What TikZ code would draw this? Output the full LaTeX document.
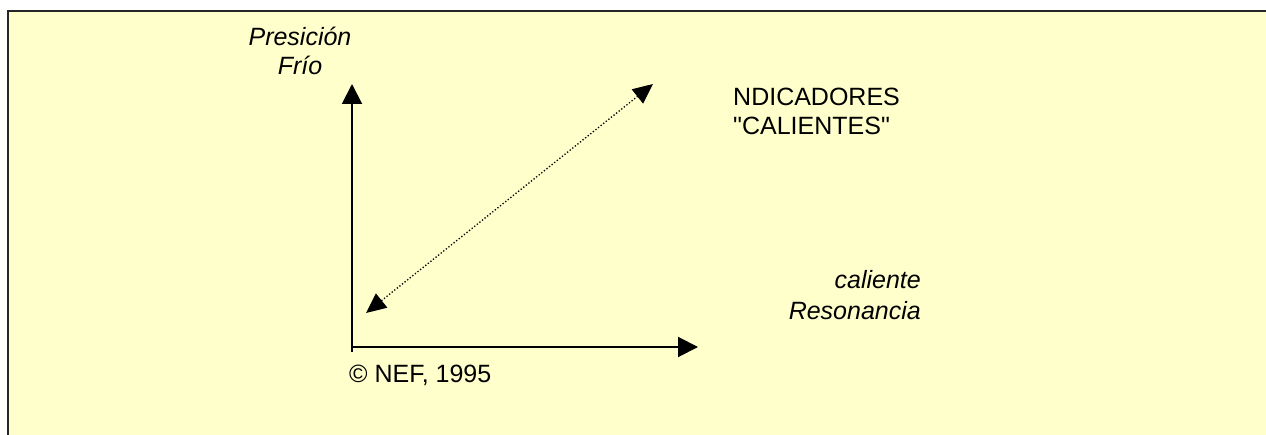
\documentclass[tikz,border=0pt]{standalone}
\usepackage{fontspec}
\setmainfont{Liberation Sans}[Ligatures=TeXOff]
\usetikzlibrary{arrows.meta}
\definecolor{bgyellow}{HTML}{FFFFCC}
\newcommand{\lblfont}{\fontsize{25}{29}\selectfont}
\tikzset{
  lbl/.style={inner sep=0pt, font=\lblfont},
  ilbl/.style={inner sep=0pt, font=\lblfont\itshape},
  axis/.style={line width=2pt, -{Triangle[length=20pt,width=20pt]}},
  diag/.style={line width=1.3pt, dotted, {Triangle[length=20pt,width=18pt]}-{Triangle[length=20pt,width=18pt]}}
}
\begin{document}
\begin{tikzpicture}[x=1pt,y=-1pt]
\useasboundingbox (0,0) rectangle (1266,435);
\fill[white] (0,0) rectangle (1266,435);
\fill[bgyellow] (8,11) rectangle (1270,440);
\draw[line width=1.5pt, black!85] (8,440) -- (8,11) -- (1270,11);
% axes
\coordinate (O) at (352,347);
\coordinate (Obot) at (352,352);
\coordinate (Ytip) at (352,84);
\coordinate (Xtip) at (698,347);
\draw[axis] (Obot) -- (Ytip);
\draw[axis] (O) -- (Xtip);
\coordinate (Dlow) at (366,313);
\coordinate (Dhigh) at (653,84);
\draw[diag] (Dlow) -- (Dhigh);
% labels (anchor = baseline of last line)
\node[ilbl, align=center, anchor=base] (ylab) at (300,75) {Presición\\Frío};
\node[lbl, align=left, anchor=base west] (ind) at (733,135) {NDICADORES\\"CALIENTES"};
\node[ilbl, align=right, anchor=base east, font=\fontsize{25}{31}\selectfont\itshape] (xlab) at (921,320) {caliente\\Resonancia};
\node[lbl, anchor=base west] (copy) at (349,382) {© NEF, 1995};
\end{tikzpicture}
\end{document}
